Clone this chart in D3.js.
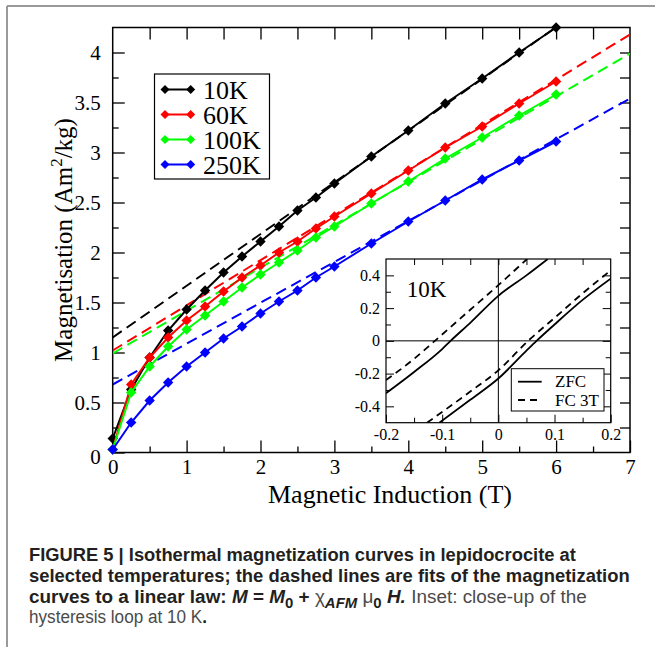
<!DOCTYPE html>
<html>
<head>
<meta charset="utf-8">
<script src="https://cdn.jsdelivr.net/npm/d3@7"></script>
<style>
  html, body { margin: 0; padding: 0; background: #fff; }
  svg { display: block; }
</style>
</head>
<body>
<script>
// ---------------- DATA ----------------
const fieldT = [0,0.25,0.5,0.75,1,1.25,1.5,1.75,2,2.25,2.5,2.75,3,3.5,4,4.5,5,5.5,6];
const m10K  = [0.14,0.63,0.95,1.22,1.43,1.62,1.80,1.96,2.11,2.26,2.42,2.55,2.69,2.96,3.22,3.49,3.74,4.00,4.25];
const m60K  = [0.03,0.68,0.95,1.15,1.32,1.46,1.61,1.75,1.87,2.00,2.11,2.24,2.36,2.59,2.82,3.05,3.26,3.49,3.71];
const m100K = [0.03,0.60,0.86,1.06,1.23,1.37,1.51,1.65,1.78,1.90,2.02,2.15,2.26,2.49,2.71,2.94,3.15,3.37,3.58];
const m250K = [0.03,0.30,0.52,0.70,0.86,1.00,1.14,1.26,1.39,1.51,1.62,1.75,1.86,2.09,2.31,2.52,2.73,2.92,3.11];

// linear-law fits (end points)
const fit10K  = [[0,1.15],[7,4.77]];
const fit60K  = [[0,1.02],[7,4.18]];
const fit100K = [[0,0.99],[7,3.99]];
const fit250K = [[0,0.68],[7,3.54]];

const seriesNames  = ["10K","60K","100K","250K"];
const seriesColors = ["#000000","#ff0000","#00ff00","#0000ff"];

const xTicks = [0,1,2,3,4,5,6,7];
const xTickLabels = ["0","1","2","3","4","5","6","7"];
const yTicks = [0,0.5,1,1.5,2,2.5,3,3.5,4];
const yTickLabels = ["0","0.5","1","1.5","2","2.5","3","3.5","4"];

// inset: hysteresis loop at 10 K
const zfcUpper = [[-0.2,-0.32],[-0.15,-0.19],[-0.1,-0.05],[-0.085,0],[-0.05,0.11],[0,0.275],[0.05,0.40],[0.088,0.5]];
const zfcLower = [[-0.105,-0.5],[-0.05,-0.36],[0,-0.23],[0.05,-0.06],[0.068,0],[0.1,0.10],[0.15,0.25],[0.2,0.38]];
const fcUpper  = [[-0.2,-0.24],[-0.15,-0.11],[-0.113,0],[-0.05,0.19],[0,0.34],[0.051,0.5]];
const fcLower  = [[-0.127,-0.5],[-0.05,-0.31],[0,-0.18],[0.053,0],[0.1,0.14],[0.15,0.29],[0.2,0.43]];
const insetXTicks = [-0.2,-0.1,0,0.1,0.2];
const insetXTickLabels = ["-0.2","-0.1","0","0.1","0.2"];
const insetYTicks = [-0.4,-0.2,0,0.2,0.4];
const insetYTickLabels = ["-0.4","-0.2","0","0.2","0.4"];
const insetLegend = ["ZFC","FC 3T"];

// ---------------- LAYOUT ----------------
const W = 655, H = 647;
const serif = "'Liberation Serif','Times New Roman',Times,serif";
const sans = "'Liberation Sans',Arial,Helvetica,sans-serif";

const svg = d3.select("body").append("svg").attr("width", W).attr("height", H);

// frame (gray border lines)
svg.append("line").attr("x1",7).attr("y1",6).attr("x2",W).attr("y2",6).attr("stroke","#9a9a9a").attr("stroke-width",2);
svg.append("line").attr("x1",7).attr("y1",6).attr("x2",7).attr("y2",H).attr("stroke","#9a9a9a").attr("stroke-width",2);

const x = d3.scaleLinear().domain([0,7]).range([112.7,630]);
const y = d3.scaleLinear().domain([0,4.25]).range([452.5,27.5]);

svg.append("defs").append("clipPath").attr("id","plotclip")
  .append("rect").attr("x",x(0)).attr("y",y(4.25)).attr("width",x(7)-x(0)).attr("height",y(0)-y(4.25));

const styleAxis = g => {
  g.select(".domain").remove();
  g.selectAll("line").attr("stroke","#000").attr("stroke-width",1.3);
  g.selectAll("text").attr("font-family",serif).attr("font-size",21).attr("fill","#000");
};

// left
svg.append("g").attr("transform",`translate(${x(0)},0)`)
  .call(d3.axisLeft(y).tickValues(yTicks).tickSize(-12).tickPadding(12).tickFormat((d,i)=>yTickLabels[i]))
  .call(styleAxis)
  .call(g => g.selectAll(".tick text").filter(d => d === 0).attr("dy","0.5em"));
svg.append("g").attr("transform",`translate(${x(0)},0)`)
  .call(d3.axisLeft(y).tickValues(d3.range(0.25,4.25,0.5)).tickSize(-6).tickFormat(""))
  .call(styleAxis);
// bottom
svg.append("g").attr("transform",`translate(0,${y(0)})`)
  .call(d3.axisBottom(x).tickValues(xTicks).tickSize(-12).tickPadding(7).tickFormat((d,i)=>xTickLabels[i]))
  .call(styleAxis);
svg.append("g").attr("transform",`translate(0,${y(0)})`)
  .call(d3.axisBottom(x).tickValues(d3.range(0.5,7,1)).tickSize(-6).tickFormat(""))
  .call(styleAxis);
// top
svg.append("g").attr("transform",`translate(0,${y(4.25)})`)
  .call(d3.axisTop(x).tickValues(d3.range(0.5,7,0.5)).tickSize(-12).tickFormat(""))
  .call(styleAxis);
// right
svg.append("g").attr("transform",`translate(${x(7)},0)`)
  .call(d3.axisRight(y).tickValues(d3.range(0.25,4.25,0.25)).tickSize(-10).tickFormat(""))
  .call(styleAxis);

// plot frame
svg.append("rect").attr("x",x(0)).attr("y",y(4.25)).attr("width",x(7)-x(0)).attr("height",y(0)-y(4.25))
  .attr("fill","none").attr("stroke","#000").attr("stroke-width",1.5);

// axis labels
svg.append("text").attr("x",390).attr("y",503).attr("text-anchor","middle")
  .attr("font-family",serif).attr("font-size",26).text("Magnetic Induction (T)");
const yl = svg.append("text").attr("transform","translate(72,240) rotate(-90)").attr("text-anchor","middle")
  .attr("font-family",serif).attr("font-size",25);
yl.append("tspan").text("Magnetisation (Am");
yl.append("tspan").attr("dy",-10).attr("font-size",17).text("2");
yl.append("tspan").attr("dy",10).text("/kg)");

// data
const plot = svg.append("g").attr("clip-path","url(#plotclip)");
const fits = [fit10K, fit60K, fit100K, fit250K];
const series = [m10K, m60K, m100K, m250K];
const lineGen = d3.line().x(d=>x(d[0])).y(d=>y(d[1]));

fits.forEach((f,i)=>{
  plot.append("path").attr("d",lineGen(f)).attr("fill","none")
    .attr("stroke",seriesColors[i]).attr("stroke-width",2).attr("stroke-dasharray","11,6");
});
const diamond = s => `M0,${-s}L${s},0L0,${s}L${-s},0Z`;
series.forEach((s,i)=>{
  const pts = fieldT.map((t,j)=>[t,s[j]]);
  svg.append("path").attr("d",lineGen(pts)).attr("fill","none")
    .attr("stroke",seriesColors[i]).attr("stroke-width",2);
  svg.append("g").selectAll("path").data(pts).join("path")
    .attr("transform",d=>`translate(${x(d[0])},${y(d[1])})`)
    .attr("d",diamond(5.2)).attr("fill",seriesColors[i]);
});

// legend
const lg = svg.append("g");
lg.append("rect").attr("x",154.5).attr("y",74).attr("width",115).attr("height",105)
  .attr("fill","#fff").attr("stroke","#000").attr("stroke-width",1.2);
seriesNames.forEach((n,i)=>{
  const yy = 89.5 + i*25;
  lg.append("line").attr("x1",165).attr("x2",190.7).attr("y1",yy).attr("y2",yy)
    .attr("stroke",seriesColors[i]).attr("stroke-width",2);
  [165,190.7].forEach(xx=>lg.append("path").attr("transform",`translate(${xx},${yy})`)
    .attr("d",diamond(4.5)).attr("fill",seriesColors[i]));
  lg.append("text").attr("x",203).attr("y",yy+9).attr("font-family",serif).attr("font-size",26).text(n);
});

// ---------------- INSET ----------------
const ix = d3.scaleLinear().domain([-0.2,0.2]).range([386,610.7]);
const iy = d3.scaleLinear().domain([-0.5,0.5]).range([422.7,259]);
const inset = svg.append("g");
inset.append("rect").attr("x",ix(-0.2)).attr("y",iy(0.5)).attr("width",ix(0.2)-ix(-0.2)).attr("height",iy(-0.5)-iy(0.5))
  .attr("fill","#fff");
svg.append("defs").append("clipPath").attr("id","insetclip")
  .append("rect").attr("x",ix(-0.2)).attr("y",iy(0.5)).attr("width",ix(0.2)-ix(-0.2)).attr("height",iy(-0.5)-iy(0.5));

const styleInset = g => {
  g.select(".domain").remove();
  g.selectAll("line").attr("stroke","#000").attr("stroke-width",1);
  g.selectAll("text").attr("font-family",serif).attr("font-size",16).attr("fill","#000");
};
inset.append("g").attr("transform",`translate(${ix(-0.2)},0)`)
  .call(d3.axisLeft(iy).tickValues(insetYTicks).tickSize(-8).tickPadding(6).tickFormat((d,i)=>insetYTickLabels[i])).call(styleInset);
inset.append("g").attr("transform",`translate(${ix(-0.2)},0)`)
  .call(d3.axisLeft(iy).tickValues([-0.3,-0.1,0.1,0.3]).tickSize(-5).tickFormat("")).call(styleInset);
inset.append("g").attr("transform",`translate(${ix(0.2)},0)`)
  .call(d3.axisRight(iy).tickValues(insetYTicks).tickSize(-8).tickFormat("")).call(styleInset);
inset.append("g").attr("transform",`translate(${ix(0.2)},0)`)
  .call(d3.axisRight(iy).tickValues([-0.3,-0.1,0.1,0.3]).tickSize(-5).tickFormat("")).call(styleInset);
inset.append("g").attr("transform",`translate(0,${iy(-0.5)})`)
  .call(d3.axisBottom(ix).tickValues(insetXTicks).tickSize(-8).tickPadding(6).tickFormat((d,i)=>insetXTickLabels[i])).call(styleInset);
inset.append("g").attr("transform",`translate(0,${iy(-0.5)})`)
  .call(d3.axisBottom(ix).tickValues([-0.15,-0.05,0.05,0.15]).tickSize(-5).tickFormat("")).call(styleInset);
inset.append("g").attr("transform",`translate(0,${iy(0.5)})`)
  .call(d3.axisTop(ix).tickValues(d3.range(-0.15,0.2,0.05)).tickSize(-6).tickFormat("")).call(styleInset);

// zero lines
inset.append("line").attr("x1",ix(0)).attr("x2",ix(0)).attr("y1",iy(0.5)).attr("y2",iy(-0.5)).attr("stroke","#000").attr("stroke-width",1);
inset.append("line").attr("x1",ix(-0.2)).attr("x2",ix(0.2)).attr("y1",iy(0)).attr("y2",iy(0)).attr("stroke","#000").attr("stroke-width",1);

const iline = d3.line().x(d=>ix(d[0])).y(d=>iy(d[1])).curve(d3.curveMonotoneX);
const ic = inset.append("g").attr("clip-path","url(#insetclip)");
[zfcUpper, zfcLower].forEach(d=>ic.append("path").attr("d",iline(d)).attr("fill","none").attr("stroke","#000").attr("stroke-width",1.8));
[fcUpper, fcLower].forEach(d=>ic.append("path").attr("d",iline(d)).attr("fill","none").attr("stroke","#000").attr("stroke-width",1.8).attr("stroke-dasharray","7,5"));

inset.append("rect").attr("x",ix(-0.2)).attr("y",iy(0.5)).attr("width",ix(0.2)-ix(-0.2)).attr("height",iy(-0.5)-iy(0.5))
  .attr("fill","none").attr("stroke","#000").attr("stroke-width",1.2);

inset.append("text").attr("x",406.7).attr("y",296.7).attr("font-family",serif).attr("font-size",23).text("10K");

// inset legend
inset.append("rect").attr("x",511.3).attr("y",368.7).attr("width",92.7).attr("height",42.3)
  .attr("fill","#fff").attr("stroke","#000").attr("stroke-width",1);
insetLegend.forEach((n,i)=>{
  const yy = 381.7 + i*18.3;
  inset.append("line").attr("x1",518).attr("x2",541.7).attr("y1",yy).attr("y2",yy)
    .attr("stroke","#000").attr("stroke-width",1.8).attr("stroke-dasharray", i===0 ? null : "7,5");
  inset.append("text").attr("x",555).attr("y",yy+5.5).attr("font-family",serif).attr("font-size",17).text(n);
});

// ---------------- CAPTION ----------------
const B = "#231f20", N = "#4a4a4a";
const captionLines = [
  {y:561, w:548, segs:[{t:"FIGURE 5 | Isothermal magnetization curves in lepidocrocite at", b:1}]},
  {y:582, w:601, segs:[{t:"selected temperatures; the dashed lines are fits of the magnetization", b:1}]},
  {y:603, w:558, segs:[
    {t:"curves to a linear law: ", b:1},
    {t:"M", b:1, i:1}, {t:" = ", b:1}, {t:"M", b:1, i:1}, {t:"0", b:1, sub:1}, {t:" + ", b:1},
    {t:"χ", b:0}, {t:"AFM", b:1, i:1, sub:1}, {t:" μ", b:0}, {t:"0", b:1, sub:1}, {t:" ", b:1},
    {t:"H.", b:1, i:1}, {t:" Inset: close-up of the", b:0}]},
  {y:623, w:178, segs:[{t:"hysteresis loop at 10 K", b:0}, {t:".", b:1}]}
];
captionLines.forEach(L=>{
  const g = svg.append("g");
  const t = g.append("text").attr("x",0).attr("y",0).attr("font-family",sans).attr("font-size",19);
  let shifted = false;
  L.segs.forEach(s=>{
    const ts = t.append("tspan").text(s.t)
      .attr("font-weight", s.b ? "bold" : "normal")
      .attr("font-style", s.i ? "italic" : "normal")
      .attr("fill", s.b ? B : N);
    if (s.sub && !shifted) { ts.attr("dy",5).attr("font-size",15); shifted = true; }
    else if (s.sub) { ts.attr("font-size",15); }
    else if (!s.sub && shifted) { ts.attr("dy",-5); shifted = false; }
  });
  const bw = t.node().getBBox().width;
  g.attr("transform",`translate(29,${L.y}) scale(${L.w/bw},1)`);
});
</script>
</body>
</html>
